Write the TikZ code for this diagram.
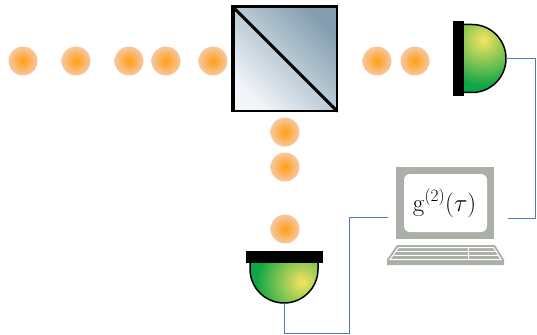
\documentclass[tikz,border=0pt]{standalone}
\begin{document}
\definecolor{photoncore}{RGB}{255,158,18}
\definecolor{photonrim}{RGB}{247,200,162}
\definecolor{bsdark}{RGB}{132,158,176}
\definecolor{bslight}{RGB}{242,246,250}
\definecolor{detgreen}{RGB}{14,166,70}
\definecolor{detyellow}{RGB}{246,228,96}
\definecolor{wire}{RGB}{80,120,205}
\definecolor{pcgray}{RGB}{170,176,168}
\begin{tikzpicture}[x=1pt,y=-1pt,
  photon/.style={inner color=photoncore, outer color=photonrim},
  sensor/.style={inner color=detyellow, outer color=detgreen},
  domeline/.style={line width=1.5pt, line join=round},
  wireline/.style={draw=wire, line width=1pt},
  pcbody/.style={fill=pcgray},
  keyline/.style={draw=white, line width=1pt}]
  \useasboundingbox (0,0) rectangle (537,334);

  % photons in the input beam and the two output arms
  \foreach \px in {23,76,129,166,213,377,415}
    \shade[photon] (\px,61) circle (14.5);
  \foreach \py in {132,167,229}
    \shade[photon] (285,\py) circle (14.5);

  % beam splitter cube
  \coordinate (bsTL) at (233,7);
  \coordinate (bsBR) at (337,111);
  \shade[top color=bsdark, bottom color=bslight, shading angle=-45] (bsTL) rectangle (bsBR);
  \draw[line width=2pt] (bsTL) rectangle (bsBR);
  \draw[line width=4pt] (233,112) -- (233,5.5);
  \draw[line width=3pt] (231,7) -- (338,7);
  \draw[line width=3pt, line cap=round] (bsTL) -- (bsBR);

  % detector in the transmitted arm
  \fill (452.7,20.7) rectangle (464.3,96);
  \begin{scope}
    \clip (464,24.5) -- (472,24.5) arc (-90:90:34) -- (464,92.5) -- cycle;
    \fill[detgreen] (440,0) rectangle (520,120);
    \shade[sensor] (483,40) circle (46);
  \end{scope}
  \draw[domeline] (464,24.5) -- (472,24.5) arc (-90:90:34) -- (464,92.5);
  \coordinate (detR) at (506,58.5);

  % detector in the reflected arm
  \fill (246,251) rectangle (322.7,263.3);
  \begin{scope}
    \clip (250,263) -- (250,269) arc (180:0:34) -- (318,263) -- cycle;
    \fill[detgreen] (240,250) rectangle (330,310);
    \shade[sensor] (302,282) circle (46);
  \end{scope}
  \draw[domeline] (250,263) -- (250,269) arc (180:0:34) -- (318,263);
  \coordinate (detB) at (284,303);

  % correlator computer
  \fill[pcbody] (396,167) rectangle (494,239);
  \fill[white, rounded corners=6pt] (404,174) rectangle (487,232);
  \node[anchor=base, inner sep=0pt, font=\fontsize{25}{30}\selectfont] (gtwo) at (444.5,211) {$\mathrm{g}^{(2)}(\tau)$};
  \fill[pcbody] (397,245) -- (495,245) -- (504,259.5) -- (504,265) -- (387,265) -- (387,259.5) -- cycle;
  \draw[keyline] (398.5,247.5) -- (493.5,247.5) -- (501,259.5) -- (390,259.5) -- cycle;
  \draw[keyline] (396,251.5) -- (496.5,251.5);
  \draw[keyline] (393.5,255.5) -- (499,255.5);
  \draw[keyline] (468,247.5) -- (468,259.5);
  \coordinate (pcL) at (388,217.5);
  \coordinate (pcR) at (508,218);

  % signal cables
  \draw[wireline] (detR) -- ++(29.5,0) |- (pcR);
  \draw[wireline] (detB) -- ++(0,30) -- ++(65,0) |- (pcL);
\end{tikzpicture}
\end{document}
